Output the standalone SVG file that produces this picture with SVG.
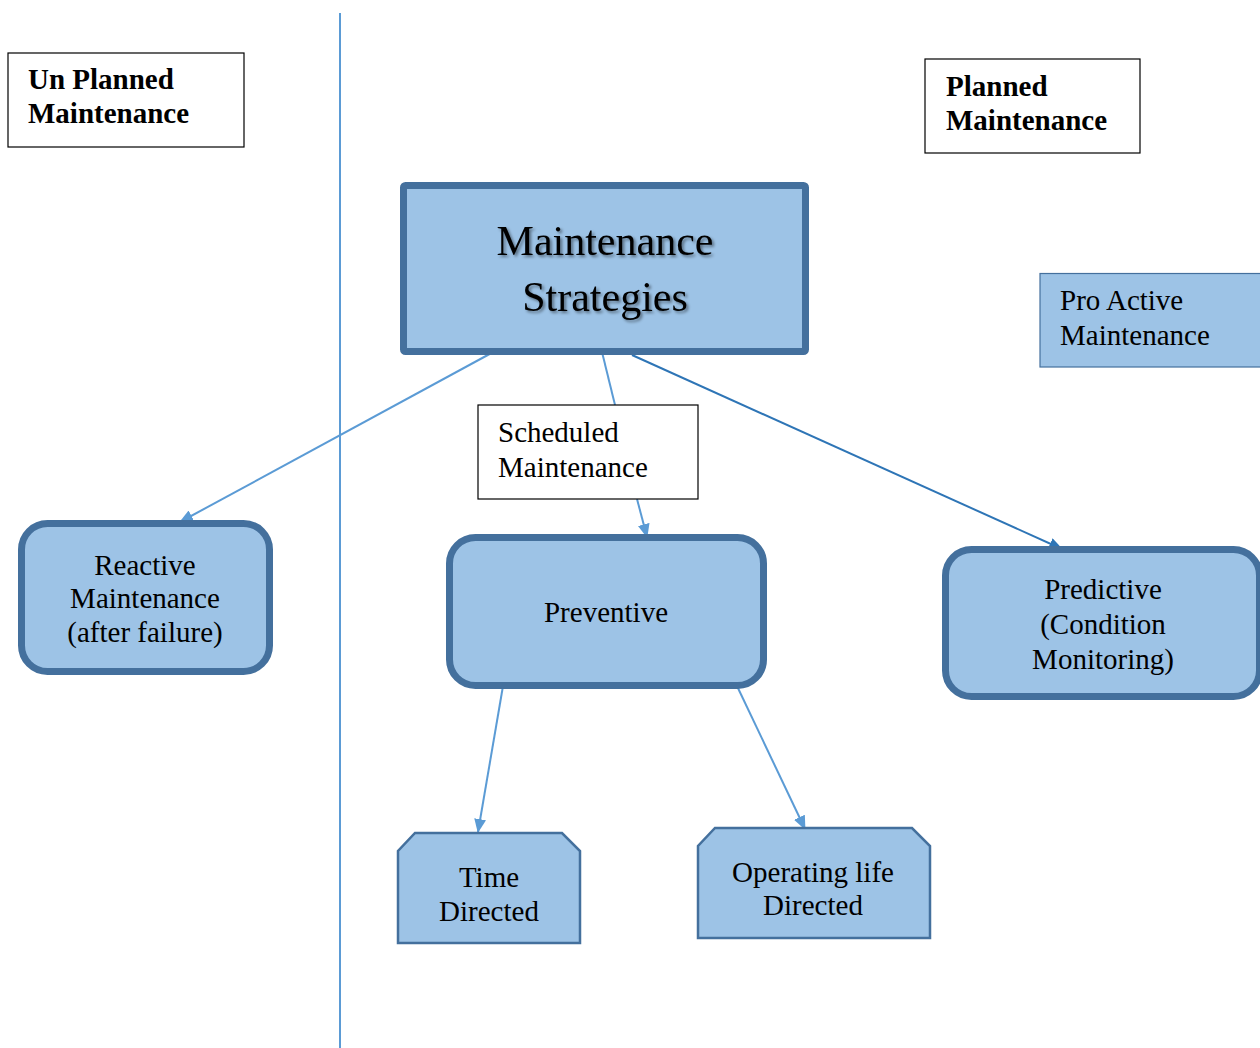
<svg xmlns="http://www.w3.org/2000/svg" width="1260" height="1048" viewBox="0 0 1260 1048">
<style>
text{font-family:"Liberation Serif","Times New Roman",serif;fill:#000;}
.t29{font-size:29px;}
.b29{font-size:29px;font-weight:bold;}
.big{font-size:42px;}
.thick{fill:#9dc3e6;stroke:#44709d;stroke-width:7;}
.oct{fill:#9dc3e6;stroke:#44709d;stroke-width:2.5;}
.note{fill:#fff;stroke:#000;stroke-width:1.2;}
.conn{stroke:#5b9bd5;stroke-width:2;fill:none;}
</style>
<defs>
<marker id="ah" viewBox="0 0 14 12" refX="13" refY="6" markerWidth="14" markerHeight="12" markerUnits="userSpaceOnUse" orient="auto"><path d="M0,0 L14,6 L0,12 z" fill="#5b9bd5"/></marker>
<marker id="ah2" viewBox="0 0 14 12" refX="13" refY="6" markerWidth="14" markerHeight="12" markerUnits="userSpaceOnUse" orient="auto"><path d="M0,0 L14,6 L0,12 z" fill="#2e75b6"/></marker>
<filter id="sh" x="-10%" y="-10%" width="130%" height="140%"><feDropShadow dx="2" dy="2" stdDeviation="1.5" flood-color="#000" flood-opacity="0.45"/></filter>
</defs>
<rect width="1260" height="1048" fill="#fff"/>
<line x1="340" y1="13" x2="340" y2="1048" stroke="#5b9bd5" stroke-width="2"/>
<g id="connectors">
<line class="conn" x1="497" y1="350" x2="180" y2="522" marker-end="url(#ah)"/>
<line class="conn" x1="602" y1="352" x2="615" y2="405"/>
<line class="conn" x1="637" y1="499" x2="647" y2="537" marker-end="url(#ah)"/>
<line x1="632" y1="355" x2="1062" y2="549" stroke="#2e75b6" stroke-width="2" marker-end="url(#ah2)"/>
<line class="conn" x1="503" y1="686" x2="478" y2="832" marker-end="url(#ah)"/>
<line class="conn" x1="737" y1="686" x2="805" y2="829" marker-end="url(#ah)"/>
</g>
<g id="unplanned">
<rect class="note" x="8" y="53" width="236" height="94"/>
<text class="b29" x="28" y="89">Un Planned</text>
<text class="b29" x="28" y="123">Maintenance</text>
</g>
<g id="planned">
<rect class="note" x="925" y="59" width="215" height="94"/>
<text class="b29" x="946" y="96">Planned</text>
<text class="b29" x="946" y="130">Maintenance</text>
</g>
<g id="main">
<rect class="thick" x="403.5" y="185.5" width="402" height="166" rx="2"/>
<g filter="url(#sh)">
<text class="big" x="605" y="255" text-anchor="middle">Maintenance</text>
<text class="big" x="605" y="311" text-anchor="middle">Strategies</text>
</g>
</g>
<g id="proactive">
<rect x="1040" y="273.5" width="222" height="93.5" fill="#9dc3e6" stroke="#44709d" stroke-width="1.2"/>
<text class="t29" x="1060" y="310">Pro Active</text>
<text class="t29" x="1060" y="345">Maintenance</text>
</g>
<g id="scheduled">
<rect class="note" x="478" y="405" width="220" height="94"/>
<text class="t29" x="498" y="442">Scheduled</text>
<text class="t29" x="498" y="477">Maintenance</text>
</g>
<g id="reactive">
<rect class="thick" x="21.5" y="523.5" width="248" height="148" rx="26"/>
<text class="t29" x="145" y="575" text-anchor="middle">Reactive</text>
<text class="t29" x="145" y="608" text-anchor="middle">Maintenance</text>
<text class="t29" x="145" y="642" text-anchor="middle">(after failure)</text>
</g>
<g id="preventive">
<rect class="thick" x="449.5" y="537.5" width="314" height="148" rx="26"/>
<text class="t29" x="606" y="622" text-anchor="middle">Preventive</text>
</g>
<g id="predictive">
<rect class="thick" x="945.5" y="549.5" width="314" height="147" rx="26"/>
<text class="t29" x="1103" y="599" text-anchor="middle">Predictive</text>
<text class="t29" x="1103" y="634" text-anchor="middle">(Condition</text>
<text class="t29" x="1103" y="669" text-anchor="middle">Monitoring)</text>
</g>
<g id="time">
<path class="oct" d="M415,833 L562,833 L580,851 L580,943 L398,943 L398,851 Z"/>
<text class="t29" x="489" y="887" text-anchor="middle">Time</text>
<text class="t29" x="489" y="921" text-anchor="middle">Directed</text>
</g>
<g id="operating">
<path class="oct" d="M715,828 L912,828 L930,846 L930,938 L698,938 L698,846 Z"/>
<text class="t29" x="813" y="882" text-anchor="middle">Operating life</text>
<text class="t29" x="813" y="915" text-anchor="middle">Directed</text>
</g>
</svg>
